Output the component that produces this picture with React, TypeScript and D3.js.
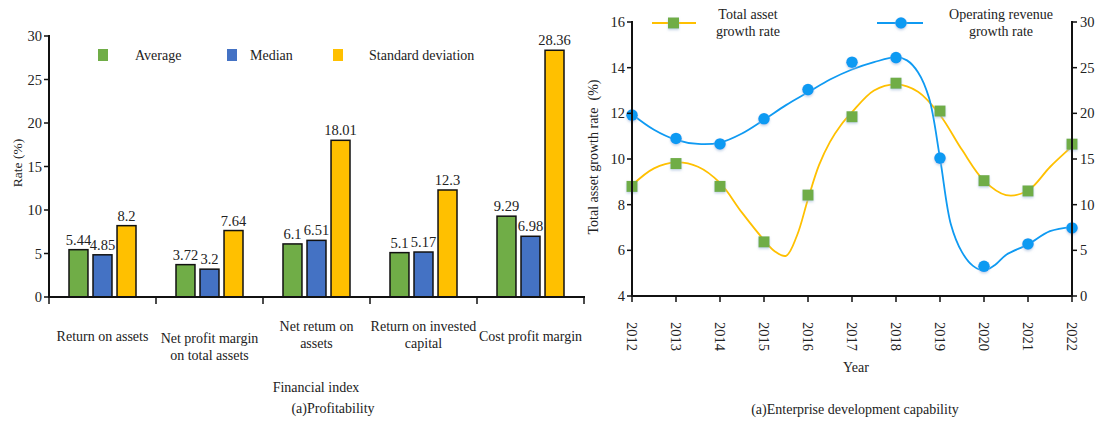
import React from "react";
import * as d3 from "d3";

// ---------- Left chart data ----------
const categories = [
  ["Return on assets"],
  ["Net profit margin", "on total assets"],
  ["Net retum on", "assets"],
  ["Return on invested", "capital"],
  ["Cost profit margin"],
];
const seriesNames = ["Average", "Median", "Standard deviation"];
const averageValues = [5.44, 3.72, 6.1, 5.1, 9.29];
const medianValues = [4.85, 3.2, 6.51, 5.17, 6.98];
const stdValues = [8.2, 7.64, 18.01, 12.3, 28.36];
const barColors = ["#70AD47", "#4472C4", "#FFC000"];
const leftTicks = [0, 5, 10, 15, 20, 25, 30];

// ---------- Right chart data ----------
const years = [2012, 2013, 2014, 2015, 2016, 2017, 2018, 2019, 2020, 2021, 2022];
const assetGrowth = [8.8, 9.8, 8.8, 6.37, 8.42, 11.85, 13.32, 12.1, 9.05, 8.6, 10.65];
const revenueGrowth = [19.8, 17.25, 16.65, 19.4, 22.6, 25.6, 26.1, 15.1, 3.25, 5.7, 7.45];
// fitted smooth curves
const assetFitYears = [2012, 2012.5, 2013, 2013.5, 2014, 2014.5, 2015, 2015.25, 2015.5, 2015.75, 2016, 2016.25, 2016.5, 2016.75, 2017, 2017.5, 2018, 2018.5, 2019, 2019.5, 2020, 2020.5, 2021, 2021.5, 2022];
const assetFitValues = [8.85, 9.59, 9.85, 9.66, 8.95, 7.65, 6.45, 5.95, 5.76, 6.65, 8.25, 9.73, 10.75, 11.49, 12.05, 13.0, 13.27, 12.95, 11.93, 10.4, 9.05, 8.42, 8.62, 9.65, 10.55];
const revenueFitYears = [2012, 2012.5, 2013, 2013.5, 2014, 2014.5, 2015, 2015.5, 2016, 2016.5, 2017, 2017.5, 2018, 2018.25, 2018.5, 2018.75, 2019, 2019.25, 2019.5, 2019.75, 2020, 2020.25, 2020.5, 2021, 2021.5, 2022];
const revenueFitValues = [19.9, 18.2, 17.1, 16.65, 16.8, 17.8, 19.3, 20.9, 22.3, 23.7, 24.8, 25.6, 26.15, 25.8, 24.5, 21.7, 15.1, 7.8, 4.8, 3.3, 2.8, 3.4, 4.5, 5.65, 7.1, 7.55];
const assetTicks = [4, 6, 8, 10, 12, 14, 16];
const revenueTicks = [0, 5, 10, 15, 20, 25, 30];

const FONT = "Liberation Serif, DejaVu Serif, Times New Roman, serif";
const GREEN = "#70AD47";
const YELLOW = "#FFC000";
const LBLUE = "#0F9AF2";

export default function App() {
  // Left chart scales
  const lx0 = 49, lx1 = 584, ly0 = 297, ly1 = 36;
  const x0 = d3.scaleBand<number>().domain(d3.range(categories.length)).range([lx0, lx1]).padding(0);
  const x1 = d3.scaleBand<number>().domain([0, 1, 2]).range([0, 67]).paddingInner(0.21);
  const yL = d3.scaleLinear().domain([0, 30]).range([ly0, ly1]);
  const seriesValues = [averageValues, medianValues, stdValues];

  // Right chart scales
  const rx0 = 632, rx1 = 1072, ry0 = 296, ry1 = 22;
  const xR = d3.scaleLinear().domain([2012, 2022]).range([rx0, rx1]);
  const yA = d3.scaleLinear().domain([4, 16]).range([ry0, ry1]);
  const yRev = d3.scaleLinear().domain([0, 30]).range([ry0, ry1]);

  const assetLine = d3
    .line<number>()
    .x((_, i) => xR(assetFitYears[i]))
    .y((d) => yA(d))
    .curve(d3.curveCatmullRom.alpha(0.5));
  const revLine = d3
    .line<number>()
    .x((_, i) => xR(revenueFitYears[i]))
    .y((d) => yRev(d))
    .curve(d3.curveCatmullRom.alpha(0.5));

  const catBoundaries = d3.range(categories.length + 1).map((i) => lx0 + i * x0.step());

  return (
    <svg width={1103} height={422} style={{ display: "block", position: "absolute", left: 0, top: 0, fontFamily: FONT }}>
      <defs>
        <filter id="shadow" x="-50%" y="-50%" width="200%" height="200%">
          <feDropShadow dx="0" dy="1.5" stdDeviation="1" floodColor="#9fb8d8" floodOpacity="0.6" />
        </filter>
      </defs>
      <rect width={1103} height={422} fill="#fff" />

      {/* ================= LEFT CHART ================= */}
      {categories.map((_, ci) =>
        seriesValues.map((vals, si) => {
          const bx = x0(ci)! + x0.bandwidth() / 2 - 33.5 + x1(si)!;
          const v = vals[ci];
          return (
            <g key={`b${ci}-${si}`}>
              <rect x={bx} y={yL(v)} width={x1.bandwidth()} height={ly0 - yL(v)} fill={barColors[si]} stroke="#111" strokeWidth={1.5} />
              <text x={bx + x1.bandwidth() / 2} y={yL(v) - 5} textAnchor="middle" fontSize={14.5} fill="#222">
                {v}
              </text>
            </g>
          );
        })
      )}
      <line x1={lx0} x2={lx0} y1={ly1 - 1} y2={ly0 + 1} stroke="#111" strokeWidth={2} />
      {leftTicks.map((t) => (
        <g key={`lt${t}`}>
          <line x1={lx0 - 5} x2={lx0} y1={yL(t)} y2={yL(t)} stroke="#111" strokeWidth={1.5} />
          <text x={lx0 - 7} y={yL(t)} dy="0.35em" textAnchor="end" fontSize={14.5} fill="#222">
            {t}
          </text>
        </g>
      ))}
      <line x1={lx0 - 1} x2={lx1 + 1} y1={ly0} y2={ly0} stroke="#111" strokeWidth={2} />
      {catBoundaries.map((bx, i) => (
        <line key={`cb${i}`} x1={bx} x2={bx} y1={ly0} y2={ly0 + 7} stroke="#111" strokeWidth={1.5} />
      ))}
      {categories.map((lines, ci) => {
        const cx = x0(ci)! + x0.bandwidth() / 2;
        const startY = lines.length === 1 ? 341 : ci === 1 ? 343 : 331;
        return (
          <text key={`cl${ci}`} x={cx} textAnchor="middle" fontSize={14} fill="#222">
            {lines.map((ln, li) => (
              <tspan key={li} x={cx} y={startY + li * 17}>
                {ln}
              </tspan>
            ))}
          </text>
        );
      })}
      <text transform={`translate(22,163) rotate(-90)`} textAnchor="middle" fontSize={13.5} fill="#222">
        Rate (%)
      </text>
      <text x={316} y={392} textAnchor="middle" fontSize={14} fill="#222">
        Financial index
      </text>
      <text x={333} y={413} textAnchor="middle" fontSize={14} fill="#222">
        (a)Profitability
      </text>
      {[
        { sx: 98, tx: 135 },
        { sx: 227, tx: 250 },
        { sx: 333, tx: 369 },
      ].map((p, i) => (
        <g key={`lg${i}`}>
          <rect x={p.sx} y={49} width={10} height={12} fill={barColors[i]} />
          <text x={p.tx} y={55} dy="0.35em" fontSize={14} fill="#222">
            {seriesNames[i]}
          </text>
        </g>
      ))}

      {/* ================= RIGHT CHART ================= */}
      <path d={assetLine(assetFitValues) || ""} fill="none" stroke={YELLOW} strokeWidth={1.8} />
      <path d={revLine(revenueFitValues) || ""} fill="none" stroke={LBLUE} strokeWidth={1.8} />
      <g filter="url(#shadow)">
        {years.map((yr, i) => (
          <rect key={`sq${yr}`} x={xR(yr) - 5.5} y={yA(assetGrowth[i]) - 5.5} width={11} height={11} fill={GREEN} />
        ))}
        {years.map((yr, i) => (
          <circle key={`ci${yr}`} cx={xR(yr)} cy={yRev(revenueGrowth[i])} r={5.8} fill={LBLUE} />
        ))}
      </g>
      <line x1={rx0} x2={rx0} y1={ry1 - 1} y2={ry0 + 1} stroke="#111" strokeWidth={2} />
      {assetTicks.map((t) => (
        <g key={`at${t}`}>
          <line x1={rx0 - 5} x2={rx0} y1={yA(t)} y2={yA(t)} stroke="#111" strokeWidth={1.5} />
          <text x={rx0 - 7} y={yA(t)} dy="0.35em" textAnchor="end" fontSize={14.5} fill="#222">
            {t}
          </text>
        </g>
      ))}
      <line x1={rx1} x2={rx1} y1={ry1 - 1} y2={ry0 + 1} stroke="#111" strokeWidth={2} />
      {revenueTicks.map((t) => (
        <g key={`rt${t}`}>
          <line x1={rx1} x2={rx1 + 5} y1={yRev(t)} y2={yRev(t)} stroke="#111" strokeWidth={1.5} />
          <text x={rx1 + 8} y={yRev(t)} dy="0.35em" textAnchor="start" fontSize={14.5} fill="#222">
            {t}
          </text>
        </g>
      ))}
      <line x1={rx0 - 1} x2={rx1 + 1} y1={ry0} y2={ry0} stroke="#111" strokeWidth={2} />
      {years.map((yr) => (
        <g key={`yt${yr}`}>
          <line x1={xR(yr)} x2={xR(yr)} y1={ry0} y2={ry0 + 6} stroke="#111" strokeWidth={1.5} />
          <text transform={`translate(${xR(yr)},322) rotate(90)`} dy="0.35em" textAnchor="start" fontSize={14.5} fill="#222">
            {yr}
          </text>
        </g>
      ))}
      <text transform={`translate(598,157) rotate(-90)`} textAnchor="middle" fontSize={14} fill="#222">
        {"Total asset growth rate\u00A0 (%)"}
      </text>
      <text x={856} y={372} textAnchor="middle" fontSize={14} fill="#222">
        Year
      </text>
      <text x={855} y={414} textAnchor="middle" fontSize={14} fill="#222">
        (a)Enterprise development capability
      </text>
      <line x1={652} x2={696} y1={23} y2={23} stroke={YELLOW} strokeWidth={1.8} />
      <rect x={668} y={17.5} width={11} height={11} fill={GREEN} filter="url(#shadow)" />
      <text x={748} textAnchor="middle" fontSize={14} fill="#222">
        <tspan x={748} y={19}>Total asset</tspan>
        <tspan x={748} y={36}>growth rate</tspan>
      </text>
      <line x1={877} x2={923} y1={23} y2={23} stroke={LBLUE} strokeWidth={1.8} />
      <circle cx={901} cy={23} r={5.8} fill={LBLUE} filter="url(#shadow)" />
      <text x={1001} textAnchor="middle" fontSize={14} fill="#222">
        <tspan x={1001} y={19}>Operating revenue</tspan>
        <tspan x={1001} y={36}>growth rate</tspan>
      </text>
    </svg>
  );
}
